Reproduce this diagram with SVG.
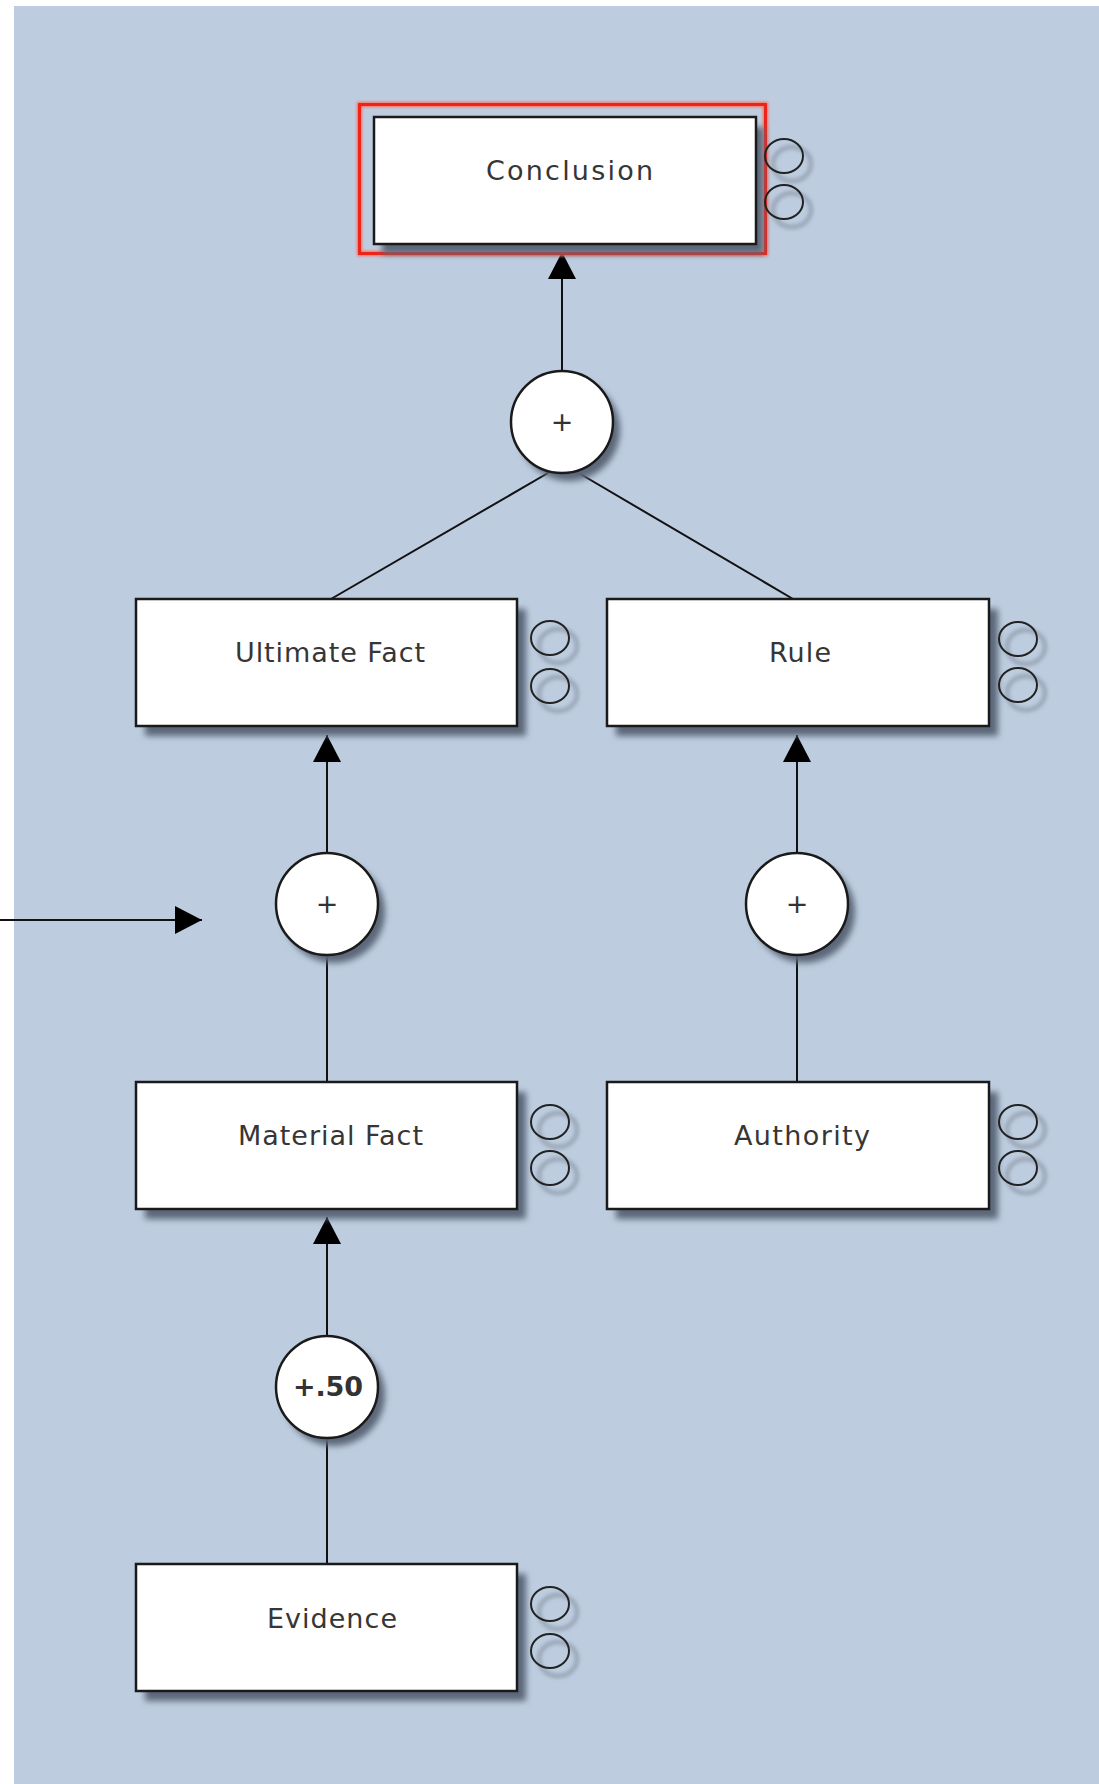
<svg xmlns="http://www.w3.org/2000/svg" width="1099" height="1784" viewBox="0 0 1099 1784">
<defs>
<style>
.box{fill:#ffffff;stroke:#1a1a1a;stroke-width:2.5}
.shd{fill:#5c6779;filter:url(#blur)}
.cshd{fill:#5c6779;filter:url(#blur)}
.op{fill:#ffffff;stroke:#1a1a1a;stroke-width:2.5}
.ring{fill:none;stroke:#222;stroke-width:2}
.ringshd{fill:none;stroke:#8792a3;stroke-width:3;filter:url(#blur2)}
.lbl{font-family:"DejaVu Sans","Liberation Sans",sans-serif;font-size:27px;fill:#363636}
.plus{font-family:"DejaVu Sans","Liberation Sans",sans-serif;font-size:27px;fill:#333;text-anchor:middle}
.wt{font-family:"DejaVu Sans","Liberation Sans",sans-serif;font-size:27px;font-weight:bold;fill:#333}
.ln{stroke:#111;stroke-width:2;fill:none}
</style>
<filter id="blur" x="-20%" y="-20%" width="140%" height="140%"><feGaussianBlur stdDeviation="3"/></filter>
<filter id="blur2" x="-50%" y="-50%" width="200%" height="200%"><feGaussianBlur stdDeviation="2"/></filter>
<filter id="glow" x="-10%" y="-10%" width="120%" height="120%"><feGaussianBlur stdDeviation="1.5"/></filter>
<marker id="ah" markerWidth="28" markerHeight="28" refX="27" refY="14" orient="auto" markerUnits="userSpaceOnUse">
<path d="M0,0 L27,14 L0,28 Z" fill="#000"/>
</marker>
</defs>
<rect x="0" y="0" width="1099" height="1784" fill="#ffffff"/>
<rect x="14" y="6" width="1085" height="1778" fill="#bdcddf"/>

<g id="connectors">
<line class="ln" x1="562" y1="371" x2="562" y2="252" marker-end="url(#ah)"/>
<line class="ln" x1="548" y1="473" x2="331" y2="599"/>
<line class="ln" x1="577" y1="472" x2="793" y2="599"/>
<line class="ln" x1="327" y1="853" x2="327" y2="735" marker-end="url(#ah)"/>
<line class="ln" x1="797" y1="853" x2="797" y2="735" marker-end="url(#ah)"/>
<line class="ln" x1="327" y1="1082" x2="327" y2="955"/>
<line class="ln" x1="797" y1="1082" x2="797" y2="955"/>
<line class="ln" x1="327" y1="1336" x2="327" y2="1217" marker-end="url(#ah)"/>
<line class="ln" x1="327" y1="1564" x2="327" y2="1438"/>
<line class="ln" x1="0" y1="920" x2="202" y2="920" marker-end="url(#ah)"/>
</g>

<g id="conclusion">
<rect x="359.5" y="104.5" width="406" height="149" fill="none" stroke="#ff6a5a" stroke-width="5" filter="url(#glow)"/>
<rect x="359.5" y="104.5" width="406" height="149" fill="none" stroke="#ee2418" stroke-width="3"/>
<rect class="shd" x="382" y="127" width="382" height="127"/>
<rect class="box" x="374" y="117" width="382" height="127"/>
<text class="lbl" x="486" y="180" textLength="167" lengthAdjust="spacing">Conclusion</text>
<ellipse class="ringshd" cx="792" cy="164" rx="19" ry="17"/>
<ellipse class="ringshd" cx="792" cy="210" rx="19" ry="17"/>
<ellipse class="ring" cx="784" cy="156" rx="19" ry="17"/>
<ellipse class="ring" cx="784" cy="202" rx="19" ry="17"/>
</g>

<g id="op-top">
<circle class="cshd" cx="569" cy="430" r="51"/>
<circle class="op" cx="562" cy="422" r="51"/>
<text class="plus" x="562" y="431">+</text>
</g>

<g id="ultimate-fact">
<rect class="shd" x="145" y="609" width="381" height="127"/>
<rect class="box" x="136" y="599" width="381" height="127"/>
<text class="lbl" x="235" y="662" textLength="190" lengthAdjust="spacing">Ultimate Fact</text>
<ellipse class="ringshd" cx="558" cy="646" rx="19" ry="17"/>
<ellipse class="ringshd" cx="558" cy="694" rx="19" ry="17"/>
<ellipse class="ring" cx="550" cy="638" rx="19" ry="17"/>
<ellipse class="ring" cx="550" cy="686" rx="19" ry="17"/>
</g>

<g id="rule">
<rect class="shd" x="616" y="609" width="382" height="127"/>
<rect class="box" x="607" y="599" width="382" height="127"/>
<text class="lbl" x="769" y="662" textLength="62" lengthAdjust="spacing">Rule</text>
<ellipse class="ringshd" cx="1026" cy="647" rx="19" ry="17"/>
<ellipse class="ringshd" cx="1026" cy="693" rx="19" ry="17"/>
<ellipse class="ring" cx="1018" cy="639" rx="19" ry="17"/>
<ellipse class="ring" cx="1018" cy="685" rx="19" ry="17"/>
</g>

<g id="op-left">
<circle class="cshd" cx="334" cy="912" r="51"/>
<circle class="op" cx="327" cy="904" r="51"/>
<text class="plus" x="327" y="913">+</text>
</g>

<g id="op-right">
<circle class="cshd" cx="804" cy="912" r="51"/>
<circle class="op" cx="797" cy="904" r="51"/>
<text class="plus" x="797" y="913">+</text>
</g>

<g id="material-fact">
<rect class="shd" x="145" y="1092" width="381" height="127"/>
<rect class="box" x="136" y="1082" width="381" height="127"/>
<text class="lbl" x="238" y="1145" textLength="185" lengthAdjust="spacing">Material Fact</text>
<ellipse class="ringshd" cx="558" cy="1130" rx="19" ry="17"/>
<ellipse class="ringshd" cx="558" cy="1176" rx="19" ry="17"/>
<ellipse class="ring" cx="550" cy="1122" rx="19" ry="17"/>
<ellipse class="ring" cx="550" cy="1168" rx="19" ry="17"/>
</g>

<g id="authority">
<rect class="shd" x="616" y="1092" width="382" height="127"/>
<rect class="box" x="607" y="1082" width="382" height="127"/>
<text class="lbl" x="734" y="1145" textLength="136" lengthAdjust="spacing">Authority</text>
<ellipse class="ringshd" cx="1026" cy="1130" rx="19" ry="17"/>
<ellipse class="ringshd" cx="1026" cy="1176" rx="19" ry="17"/>
<ellipse class="ring" cx="1018" cy="1122" rx="19" ry="17"/>
<ellipse class="ring" cx="1018" cy="1168" rx="19" ry="17"/>
</g>

<g id="op-weight">
<circle class="cshd" cx="334" cy="1395" r="51"/>
<circle class="op" cx="327" cy="1387" r="51"/>
<text class="wt" x="293" y="1396" textLength="70" lengthAdjust="spacing">+.50</text>
</g>

<g id="evidence">
<rect class="shd" x="145" y="1574" width="381" height="127"/>
<rect class="box" x="136" y="1564" width="381" height="127"/>
<text class="lbl" x="267" y="1628" textLength="130" lengthAdjust="spacing">Evidence</text>
<ellipse class="ringshd" cx="558" cy="1612" rx="19" ry="17"/>
<ellipse class="ringshd" cx="558" cy="1659" rx="19" ry="17"/>
<ellipse class="ring" cx="550" cy="1604" rx="19" ry="17"/>
<ellipse class="ring" cx="550" cy="1651" rx="19" ry="17"/>
</g>
</svg>
